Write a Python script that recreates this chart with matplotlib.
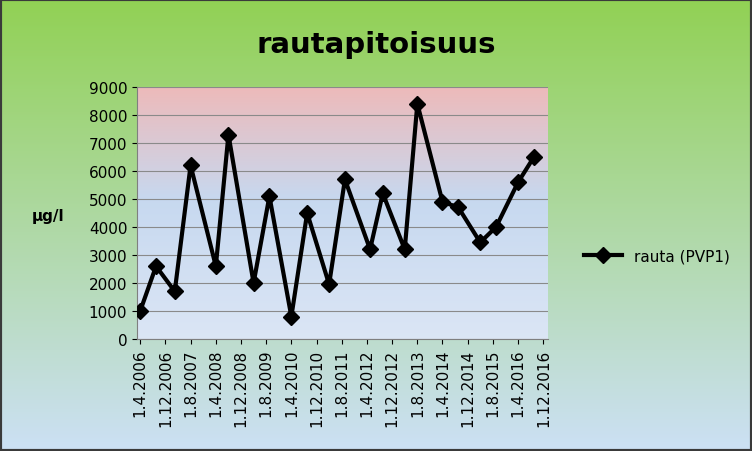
import matplotlib
matplotlib.use("Agg")
import matplotlib.pyplot as plt
import numpy as np
from datetime import date

# data
dates = ["2006-04-01", "2006-09-01", "2007-03-01", "2007-08-01", "2008-04-01", "2008-08-01",
         "2009-04-01", "2009-09-01", "2010-04-01", "2010-09-01", "2011-04-01", "2011-09-01",
         "2012-05-01", "2012-09-01", "2013-04-01", "2013-08-01", "2014-04-01", "2014-09-01",
         "2015-04-01", "2015-09-01", "2016-04-01", "2016-09-01"]
rauta = [1000, 2600, 1700, 6200, 2600, 7300, 2000, 5100, 800, 4500, 1950, 5700,
         3200, 5200, 3200, 8400, 4900, 4700, 3450, 4000, 5600, 6500]
tick_dates = [date(2006 + (4 + 8 * i - 1) // 12, (4 + 8 * i - 1) % 12 + 1, 1) for i in range(17)]
tick_labels = [f"1.{d.month}.{d.year}" for d in tick_dates]

x = [np.datetime64(d) for d in dates]

fig = plt.figure(figsize=(7.52, 4.52), dpi=100)

# figure background gradient (green -> light blue)
bg = fig.add_axes([0, 0, 1, 1], zorder=-10)
g = np.linspace(0, 1, 256)[:, None]
top = np.array([0.57, 0.82, 0.33])
bot = np.array([0.80, 0.88, 0.96])
img = top * (1 - g[..., None]) + bot * g[..., None]
bg.imshow(img, aspect="auto", extent=[0, 1, 0, 1])
bg.set_axis_off()
fig.patches.append(plt.Rectangle((0, 0), 1, 1, transform=fig.transFigure, fill=False,
                                  edgecolor="#3a3a3a", linewidth=3))

ax = fig.add_axes([137 / 752, 1 - 340 / 452, 411 / 752, 252 / 452])
# plot area gradient (red-ish top -> blue bottom)
pt = np.array([0.93, 0.73, 0.73])
pm = np.array([0.78, 0.85, 0.94])
pb = np.array([0.86, 0.90, 0.96])
gg = np.linspace(0, 1, 256)
cols = np.array([pt + (pm - pt) * (v / 0.45) if v < 0.45 else pm + (pb - pm) * (v - 0.45) / 0.55 for v in gg])
ax.imshow(cols[:, None, :], aspect="auto", extent=[0, 1, 0, 1], transform=ax.transAxes, zorder=0)

ax.plot(x, rauta, color="black", linewidth=3, marker="D", markersize=8, label="rauta (PVP1)", zorder=3)
ax.set_ylim(0, 9000)
ax.set_yticks(range(0, 9001, 1000))
ax.set_xlim(np.datetime64("2006-03-01"), np.datetime64("2017-01-15"))
ax.set_xticks([np.datetime64(d) for d in tick_dates])
ax.set_xticklabels(tick_labels, rotation=90, fontsize=11)
ax.tick_params(axis="y", labelsize=11)
ax.grid(axis="y", color="#8a8a8a", linewidth=0.8, zorder=1)
ax.set_axisbelow(True)
for s in ["top", "right"]:
    ax.spines[s].set_visible(False)
ax.spines["left"].set_color("#7f7f7f")
ax.spines["bottom"].set_color("#7f7f7f")

fig.text(376 / 752, 1 - 45 / 452, "rautapitoisuus", ha="center", va="center",
         fontsize=21, fontweight="bold")
fig.text(48 / 752, 1 - 217 / 452, "µg/l", ha="center", va="center", fontsize=11, fontweight="bold")
fig.legend(loc="center left", bbox_to_anchor=(570 / 752, 1 - 257 / 452), frameon=False, fontsize=11,
           handlelength=2.5)

fig.savefig("out.png", dpi=100)
